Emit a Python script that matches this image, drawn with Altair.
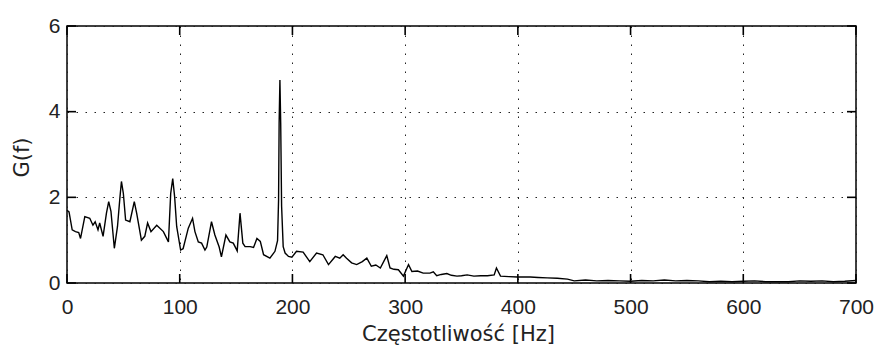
import altair as alt
import pandas as pd

# Spectrum: frequency [Hz] and G(f)
freq = [0, 1.8, 4.6, 7.5, 10.4, 12, 15.8, 20.2, 23, 25, 27.5, 29, 32, 35, 37, 39, 42, 44.8,
        47, 48.3, 50, 52, 55.8, 59.7, 61.8, 66, 69, 71.5, 74.5, 79.6, 85.5, 90, 92, 93.8,
        95.5, 97.3, 100.8, 103, 107.6, 111.4, 113.5, 116.5, 119.4, 122.4, 124, 128.2,
        131.2, 135, 137, 141, 144.5, 147.5, 151, 153.5, 156, 158, 162.5, 165.5, 168.5,
        171.5, 174.4, 180, 184.5, 186.8, 187.7, 188.2, 188.9, 189.6, 190.4, 191.8, 193.5,
        196.5, 199.5, 203.6, 209.5, 215.4, 221.4, 227, 232, 238, 242, 245, 248, 252.5, 257,
        262, 266, 270, 274, 278, 283.7, 286.6, 290, 294, 298.5, 303, 306, 311, 316, 322,
        325, 328, 332, 337, 341, 346, 350, 355, 361, 367, 373, 379, 381, 384.6, 392, 399.5,
        405, 411, 418, 426, 435, 444, 450, 460, 470, 480, 490, 500, 510, 520, 530, 540, 550,
        560, 570, 580, 590, 600, 610, 620, 640, 650, 660, 670, 680, 690, 700]
gval = [1.70, 1.66, 1.24, 1.20, 1.18, 1.04, 1.55, 1.51, 1.35, 1.43, 1.24, 1.40, 1.09, 1.63,
        1.90, 1.67, 0.81, 1.32, 2.01, 2.37, 2.09, 1.47, 1.43, 1.90, 1.63, 1.00, 1.09, 1.40,
        1.20, 1.35, 1.20, 0.96, 2.09, 2.44, 2.01, 1.32, 0.77, 0.80, 1.28, 1.51, 1.20, 0.96,
        0.93, 0.77, 0.84, 1.43, 1.12, 0.84, 0.61, 1.12, 0.96, 0.93, 0.75, 1.63, 0.93, 0.85,
        0.85, 0.83, 1.04, 0.97, 0.66, 0.58, 0.74, 0.99, 1.94, 3.73, 4.74, 3.73, 1.79, 0.85,
        0.70, 0.62, 0.60, 0.74, 0.72, 0.50, 0.70, 0.66, 0.43, 0.62, 0.58, 0.66, 0.58, 0.47,
        0.43, 0.50, 0.58, 0.39, 0.42, 0.35, 0.64, 0.35, 0.32, 0.31, 0.16, 0.43, 0.27, 0.28,
        0.23, 0.23, 0.26, 0.17, 0.20, 0.22, 0.18, 0.16, 0.17, 0.19, 0.16, 0.17, 0.17, 0.19,
        0.35, 0.16, 0.15, 0.14, 0.14, 0.14, 0.13, 0.12, 0.11, 0.09, 0.05, 0.07, 0.05, 0.06,
        0.05, 0.04, 0.06, 0.05, 0.07, 0.05, 0.06, 0.05, 0.03, 0.04, 0.03, 0.04, 0.05, 0.03,
        0.03, 0.05, 0.04, 0.05, 0.03, 0.04, 0.06]

x_ticks = [0, 100, 200, 300, 400, 500, 600, 700]
y_ticks = [0, 2, 4, 6]

W, H = 789, 257
TICK = 9

df = pd.DataFrame({"f": freq, "G": gval})
dfx = pd.DataFrame({"f": x_ticks})
dfy = pd.DataFrame({"G": y_ticks})

xs = alt.Scale(domain=[0, 700], nice=False, zero=False)
ys = alt.Scale(domain=[0, 6], nice=False)

xaxis = alt.Axis(values=x_ticks, title="Częstotliwość [Hz]", labelPadding=13,
                 titleX=391, titleY=57, titleBaseline="alphabetic", titleAnchor="start",
                 titleAlign="center")
yaxis = alt.Axis(values=y_ticks, title="G(f)", labelPadding=7,
                 titleX=-45, titleY=131, titleBaseline="middle", titleAlign="center",
                 titleAngle=270)

line = alt.Chart(df).mark_line(color="black", strokeWidth=1.4).encode(
    x=alt.X("f:Q", scale=xs, axis=xaxis),
    y=alt.Y("G:Q", scale=ys, axis=yaxis),
)

tick_style = dict(color="black", strokeWidth=1.6)
xt_bottom = alt.Chart(dfx).mark_rule(**tick_style).encode(
    x=alt.X("f:Q", scale=xs, axis=xaxis), y=alt.value(H), y2=alt.value(H - TICK))
xt_top = alt.Chart(dfx).mark_rule(**tick_style).encode(
    x=alt.X("f:Q", scale=xs, axis=xaxis), y=alt.value(0), y2=alt.value(TICK))
yt_left = alt.Chart(dfy).mark_rule(**tick_style).encode(
    y=alt.Y("G:Q", scale=ys, axis=yaxis), x=alt.value(0), x2=alt.value(TICK))
yt_right = alt.Chart(dfy).mark_rule(**tick_style).encode(
    y=alt.Y("G:Q", scale=ys, axis=yaxis), x=alt.value(W), x2=alt.value(W - TICK))

chart = alt.layer(line, xt_bottom, xt_top, yt_left, yt_right).properties(
    width=W, height=H,
    autosize=alt.AutoSizeParams(type="none"),
    padding={"left": 67, "top": 26, "right": 20, "bottom": 63},
    background="white",
).configure_view(
    stroke="black", strokeWidth=1.5
).configure_axis(
    grid=True, gridColor="#222", gridDash=[1.5, 7.5], gridWidth=1, gridOpacity=1,
    domain=False, ticks=False, tickSize=0,
    labelFont="Liberation Sans", labelFontSize=21, labelColor="#222",
    labelFlush=False, labelOverlap=False,
    titleFont="DejaVu Sans", titleFontSize=21, titleFontWeight="normal", titleColor="#222",
)

chart.save("out.html", embed_options={"renderer": "svg", "actions": False})
